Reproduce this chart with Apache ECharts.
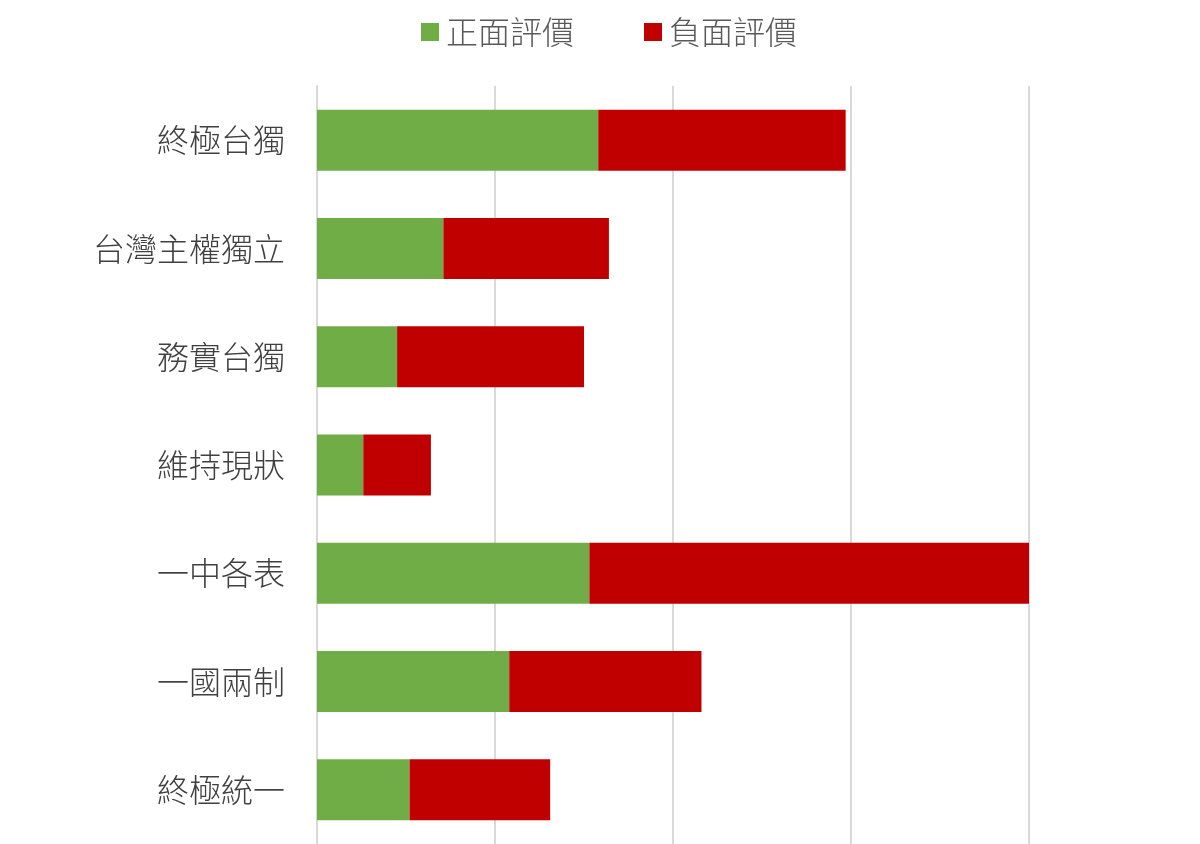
<!DOCTYPE html>
<html><head><meta charset="utf-8">
<script src="https://cdn.jsdelivr.net/npm/echarts@6/dist/echarts.min.js"></script>
<style>html,body{margin:0;padding:0;background:#fff}#c{width:1200px;height:844px}</style>
</head><body><div id="c"></div>
<script>
const categories = ['終極台獨','台灣主權獨立','務實台獨','維持現狀','一中各表','一國兩制','終極統一'];
const positive = [15.8, 7.1, 4.5, 2.6, 15.3, 10.8, 5.2];
const negative = [13.9, 9.3, 10.5, 3.8, 24.7, 10.8, 7.9];
const seriesNames = ['正面評價','負面評價'];
const font = '"Noto Sans CJK TC", "Noto Sans CJK SC", sans-serif';
const chart = echarts.init(document.getElementById('c'));
chart.setOption({
  backgroundColor: '#fff',
  animation: false,
  legend: {
    top: 11, left: 416, itemWidth: 18, itemHeight: 18, itemGap: 70,
    icon: 'rect',
    textStyle: { fontSize: 32, color: '#595959', fontFamily: font, fontWeight: 300, padding: [0, 0, 0, 2] },
    data: seriesNames
  },
  grid: { left: 317, right: 171, top: 86, bottom: 0, containLabel: false },
  xAxis: {
    type: 'value', min: 0, max: 40, interval: 10,
    axisLabel: { show: false }, axisLine: { show: false }, axisTick: { show: false },
    splitLine: { show: true, lineStyle: { color: '#d9d9d9', width: 2 } }
  },
  yAxis: {
    type: 'category', data: categories, inverse: true,
    axisLine: { show: true, lineStyle: { color: '#d9d9d9', width: 2 } },
    axisTick: { show: false },
    axisLabel: { margin: 32, fontSize: 32, color: '#404040', fontFamily: font, fontWeight: 300 }
  },
  series: [
    { name: seriesNames[0], type: 'bar', stack: 's', data: positive, barWidth: 61, itemStyle: { color: '#70ad47' } },
    { name: seriesNames[1], type: 'bar', stack: 's', data: negative, barWidth: 61, itemStyle: { color: '#c00000' } }
  ]
});
</script></body></html>
